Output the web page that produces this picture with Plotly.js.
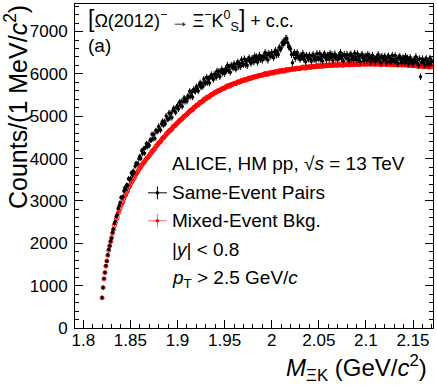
<!DOCTYPE html>
<html>
<head>
<meta charset="utf-8">
<script src="https://cdn.plot.ly/plotly-3.0.1.min.js"></script>
<style>
html, body { margin: 0; padding: 0; background: #fff; }
#chart { width: 437px; height: 391px; }
</style>
</head>
<body>
<div id="chart"></div>
<script>
// 1 MeV bins of M(Xi K), first bin centre in GeV/c^2
let massStart = 1.820;
let binWidth = 0.001;

// same-event pairs, counts per bin
let sameEvent = [
  717, 948, 1168, 1309, 1470, 1577, 1723, 1851, 1940, 2049,
  2120, 2257, 2334, 2468, 2512, 2637, 2675, 2824, 2889, 2958,
  3082, 3079, 3093, 3236, 3310, 3278, 3374, 3368, 3526, 3504,
  3530, 3663, 3610, 3706, 3673, 3820, 3888, 3873, 3880, 3998,
  4053, 4001, 4183, 4121, 4230, 4128, 4265, 4354, 4281, 4347,
  4308, 4440, 4432, 4574, 4466, 4573, 4475, 4662, 4643, 4639,
  4760, 4703, 4670, 4822, 4879, 4786, 4877, 4825, 5006, 4933,
  4929, 5079, 4962, 5062, 4970, 5134, 5188, 5122, 5090, 5219,
  5243, 5170, 5332, 5255, 5347, 5229, 5352, 5429, 5346, 5404,
  5356, 5477, 5457, 5589, 5469, 5565, 5456, 5632, 5602, 5588,
  5699, 5641, 5598, 5740, 5788, 5685, 5767, 5704, 5877, 5794,
  5781, 5921, 5795, 5884, 5784, 5938, 5982, 5906, 5866, 5985,
  5999, 5916, 6068, 5980, 6061, 5933, 6045, 6112, 6018, 6065,
  6007, 6117, 6086, 6206, 6076, 6161, 6040, 6205, 6165, 6140,
  6239, 6162, 6111, 6244, 6282, 6170, 6244, 6172, 6335, 6243,
  6222, 6354, 6221, 6302, 6195, 6342, 6379, 6296, 6248, 6360,
  6367, 6278, 6425, 6331, 6407, 6273, 6380, 6441, 6342, 6383,
  6320, 6425, 6390, 6505, 6371, 6451, 6326, 6486, 6442, 6412,
  6507, 6431, 6380, 6515, 6554, 6443, 6522, 6456, 6631, 6575,
  6605, 6734, 6693, 6782, 6736, 6834, 6836, 6735, 6636, 6632,
  6590, 6458, 6260, 6455, 6508, 6361, 6454, 6502, 6391, 6419,
  6342, 6435, 6387, 6490, 6347, 6420, 6288, 6440, 6388, 6352,
  6443, 6359, 6300, 6426, 6458, 6339, 6406, 6327, 6483, 6384,
  6355, 6481, 6341, 6417, 6303, 6444, 6475, 6386, 6332, 6437,
  6438, 6343, 6484, 6385, 6455, 6316, 6416, 6472, 6367, 6403,
  6334, 6433, 6393, 6502, 6361, 6436, 6305, 6460, 6409, 6373,
  6463, 6377, 6316, 6440, 6469, 6348, 6412, 6332, 6485, 6384,
  6354, 6477, 6336, 6410, 6293, 6433, 6461, 6371, 6314, 6418,
  6417, 6320, 6459, 6357, 6425, 6285, 6383, 6437, 6330, 6363,
  6291, 6391, 6350, 6460, 6319, 6393, 6263, 6417, 6366, 6331,
  6420, 6333, 6273, 6397, 6425, 6305, 6369, 6287, 6442, 6341,
  6309, 6433, 6292, 6365, 6249, 6388, 6416, 6325, 6269, 6372,
  6371, 6275, 6412, 6311, 6379, 6237, 6336, 6389, 6282, 6315,
  6243, 6341, 6300, 6407, 6266, 6339, 6206, 6360, 5930, 6271,
  6359, 6272, 6209, 6333, 6361, 6238, 6301, 6219, 6372, 6270, 6298
];

// mixed-event background, counts per bin
let mixedEvent = [
  712, 956, 1156, 1308, 1459, 1584, 1716, 1835, 1937, 2039,
  2133, 2238, 2324, 2419, 2485, 2567, 2625, 2708, 2767, 2827,
  2899, 2941, 2983, 3057, 3116, 3146, 3203, 3238, 3313, 3340,
  3382, 3446, 3463, 3516, 3536, 3601, 3643, 3666, 3695, 3745,
  3777, 3798, 3850, 3866, 3907, 3919, 3962, 3998, 4012, 4045,
  4060, 4109, 4130, 4179, 4181, 4222, 4228, 4288, 4306, 4330,
  4373, 4386, 4399, 4446, 4479, 4485, 4518, 4531, 4584, 4591,
  4613, 4657, 4654, 4689, 4691, 4740, 4766, 4775, 4790, 4828,
  4848, 4857, 4898, 4904, 4935, 4938, 4972, 5000, 5006, 5032,
  5040, 5080, 5091, 5131, 5123, 5155, 5151, 5202, 5210, 5225,
  5258, 5262, 5267, 5305, 5330, 5327, 5352, 5356, 5401, 5399,
  5413, 5448, 5437, 5463, 5457, 5497, 5515, 5515, 5522, 5551,
  5563, 5563, 5594, 5591, 5612, 5606, 5630, 5649, 5645, 5662,
  5660, 5690, 5691, 5721, 5703, 5725, 5711, 5752, 5750, 5755,
  5778, 5773, 5769, 5798, 5814, 5802, 5818, 5813, 5849, 5838,
  5843, 5871, 5853, 5871, 5858, 5891, 5902, 5895, 5894, 5916,
  5921, 5915, 5941, 5932, 5948, 5936, 5955, 5968, 5959, 5970,
  5963, 5988, 5985, 6010, 5988, 6005, 5987, 6023, 6017, 6017,
  6036, 6027, 6019, 6045, 6057, 6041, 6053, 6044, 6077, 6062,
  6063, 6088, 6066, 6082, 6065, 6095, 6103, 6092, 6089, 6107,
  6109, 6100, 6123, 6112, 6125, 6110, 6126, 6136, 6125, 6133,
  6123, 6146, 6140, 6163, 6138, 6153, 6133, 6166, 6158, 6155,
  6172, 6161, 6151, 6174, 6184, 6166, 6177, 6166, 6196, 6179,
  6178, 6201, 6177, 6191, 6173, 6200, 6206, 6194, 6189, 6205,
  6205, 6194, 6216, 6202, 6213, 6197, 6211, 6219, 6205, 6212,
  6200, 6221, 6214, 6235, 6209, 6222, 6200, 6232, 6222, 6218,
  6233, 6221, 6209, 6231, 6240, 6220, 6229, 6217, 6245, 6227,
  6225, 6246, 6221, 6234, 6214, 6241, 6245, 6232, 6225, 6241,
  6239, 6227, 6247, 6232, 6242, 6225, 6238, 6245, 6230, 6235,
  6222, 6242, 6234, 6254, 6226, 6238, 6215, 6245, 6234, 6229,
  6242, 6228, 6216, 6236, 6243, 6223, 6230, 6216, 6244, 6224,
  6220, 6240, 6214, 6225, 6204, 6229, 6232, 6217, 6209, 6223,
  6220, 6207, 6225, 6209, 6217, 6198, 6210, 6215, 6199, 6202,
  6188, 6206, 6197, 6215, 6187, 6197, 6172, 6202, 6189, 6183,
  6195, 6180, 6166, 6186, 6192, 6170, 6176, 6161, 6188, 6167, 6173
];
let mixedErr = 25;

let seriesNames = ["Same-Event Pairs", "Mixed-Event Bkg."];
let infoLines = [
  "ALICE, HM pp, √<i>s</i> = 13 TeV",
  "|<i>y</i>| < 0.8",
  "<i>p</i><sub>T</sub> > 2.5 GeV/<i>c</i>"
];

let mass = sameEvent.map((v, i) => massStart + i * binWidth);

let FONT = "Liberation Sans, Arial, Helvetica, sans-serif";

let mixedTrace = {
  x: mass, y: mixedEvent, type: "scatter", mode: "markers",
  name: seriesNames[1], showlegend: false,
  marker: {symbol: "circle-open", size: 4, color: "#ff0000", line: {width: 1, color: "#ff0000"}},
  error_y: {type: "constant", value: mixedErr, color: "#ff0000", thickness: 1, width: 0}
};
let sameTrace = {
  x: mass, y: sameEvent, type: "scatter", mode: "markers",
  name: seriesNames[0], showlegend: false,
  marker: {symbol: "circle", size: 3.5, color: "#000000"},
  error_y: {type: "data", array: sameEvent.map(v => Math.sqrt(v)), color: "#000000", thickness: 1, width: 0}
};

// paper coords helper: plot area is 358.3 x 324.3 px
function px(x) { return (x - 75) / 358.3; }
function py(y) { return (328.3 - y) / 324.3; }

let annotations = [
  {text: '<span style="font-size:23px">[</span>Ω(2012)<sup>−</sup>\u2009→\u2009Ξ<sup>−</sup>K<sup>0</sup><sub>S</sub><span style="font-size:23px">]</span> + c.c.',
   x: px(86), y: py(20), xanchor: "left", yanchor: "middle", font: {size: 18}},
  {text: "(a)", x: px(86), y: py(46), xanchor: "left", yanchor: "middle"},
  {text: infoLines[0], x: px(170), y: py(164), xanchor: "left", yanchor: "middle"},
  {text: seriesNames[0], x: px(170), y: py(193), xanchor: "left", yanchor: "middle"},
  {text: seriesNames[1], x: px(170), y: py(221), xanchor: "left", yanchor: "middle"},
  {text: infoLines[1], x: px(170), y: py(250), xanchor: "left", yanchor: "middle"},
  {text: infoLines[2], x: px(170), y: py(279), xanchor: "left", yanchor: "middle"},
  {text: "<i>M</i><sub>ΞK</sub> (GeV/<i>c</i><sup>2</sup>)", x: px(429), y: py(368), xanchor: "right", yanchor: "middle",
   font: {size: 24}},
  {text: "Counts/(1 MeV/<i>c</i><sup>2</sup>)", x: px(16), y: py(3), xanchor: "center", yanchor: "top",
   textangle: -90, font: {size: 25}}
].map(a => Object.assign({xref: "paper", yref: "paper", showarrow: false, align: "left"}, a,
  {font: Object.assign({family: FONT, size: 19, color: "#000"}, a.font || {})}));

// legend symbols
let shapes = [];
[["#000000", 193], ["rgba(255,0,0,0.6)", 221]].forEach(([c, yy]) => {
  shapes.push({type: "line", xref: "paper", yref: "paper", x0: px(148), x1: px(167), y0: py(yy), y1: py(yy), line: {color: c, width: 1}});
  shapes.push({type: "line", xref: "paper", yref: "paper", x0: px(157.5), x1: px(157.5), y0: py(yy - 6.5), y1: py(yy + 6.5), line: {color: c, width: 1}});
  shapes.push({type: "circle", xref: "paper", yref: "paper", xsizemode: "pixel", ysizemode: "pixel",
    xanchor: px(157.5), yanchor: py(yy), x0: -1.8, x1: 1.8, y0: -1.8, y1: 1.8,
    fillcolor: c === "#000000" ? "#000" : "#ff0000", line: {width: 0}});
});

let layout = {
  width: 437, height: 391,
  margin: {l: 75, r: 3.7, t: 4, b: 62.7, pad: 0},
  paper_bgcolor: "#fff", plot_bgcolor: "#fff",
  font: {family: FONT, size: 17, color: "#000"},
  showlegend: false,
  xaxis: {
    range: [1.7912, 2.1712], dtick: 0.05, tick0: 1.8,
    ticks: "inside", ticklen: 8, tickwidth: 1, tickcolor: "#000",
    minor: {dtick: 0.01, ticks: "inside", ticklen: 4, tickcolor: "#000"},
    showline: true, linecolor: "#000", linewidth: 1, mirror: true,
    showgrid: false, zeroline: false, ticklabelstandoff: -3,
    tickfont: {size: 17}
  },
  yaxis: {
    range: [0, 7650], dtick: 1000, tick0: 0,
    ticks: "inside", ticklen: 8, tickwidth: 1, tickcolor: "#000",
    minor: {dtick: 200, ticks: "inside", ticklen: 4, tickcolor: "#000"},
    showline: true, linecolor: "#000", linewidth: 1, mirror: "ticks",
    showgrid: false, zeroline: false, ticklabelstandoff: 3,
    tickfont: {size: 17}
  },
  annotations: annotations,
  shapes: shapes
};

Plotly.newPlot("chart", [mixedTrace, sameTrace], layout, {displayModeBar: false, staticPlot: true});
</script>
</body>
</html>
